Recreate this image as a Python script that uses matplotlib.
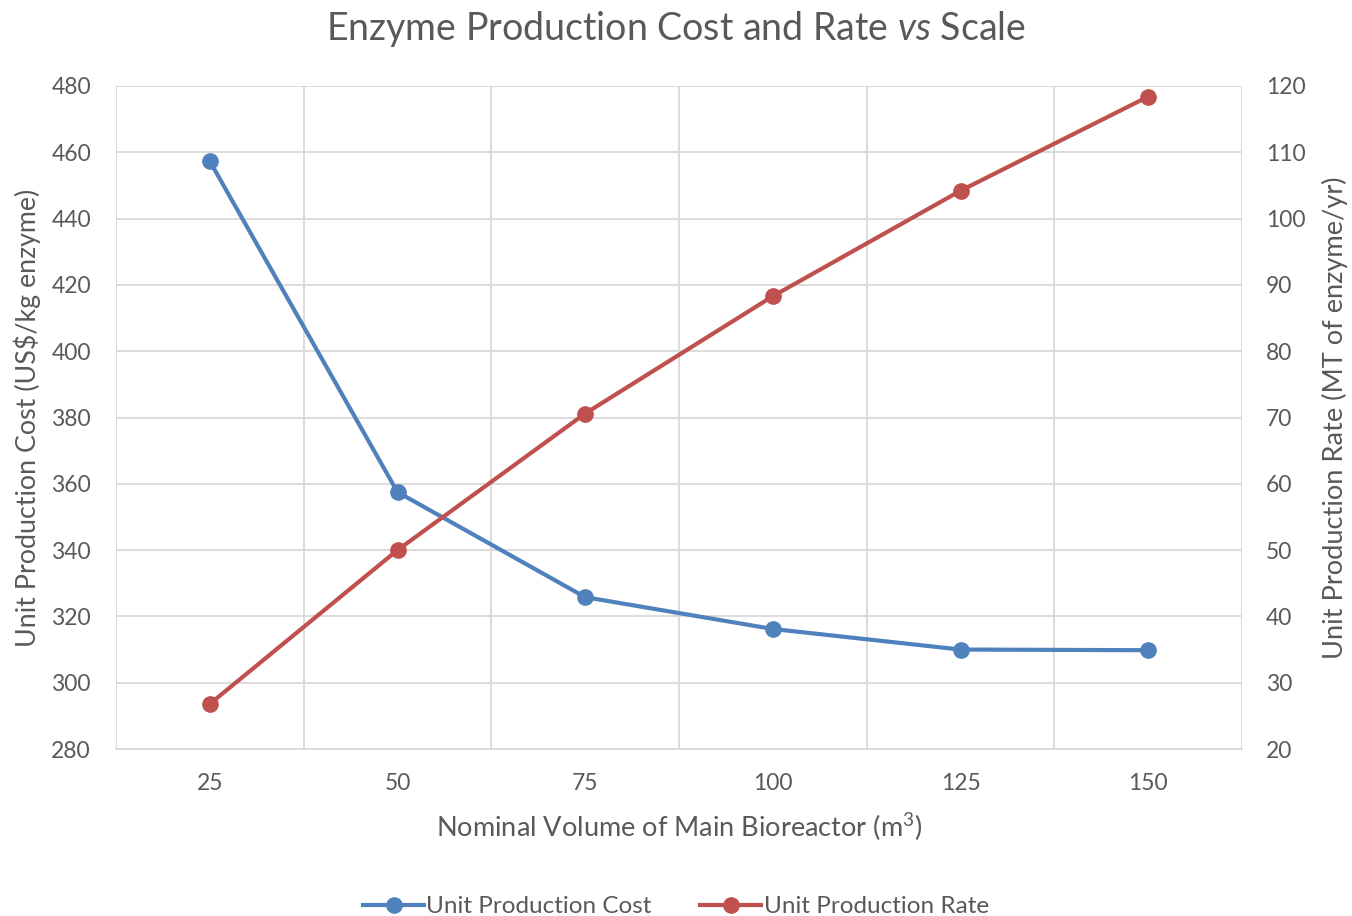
import numpy as np
import matplotlib.pyplot as plt
from matplotlib.lines import Line2D

plt.rcParams['font.family'] = ['Lato', 'DejaVu Sans']
plt.rcParams['mathtext.fontset'] = 'custom'
plt.rcParams['mathtext.rm'] = 'Lato'
plt.rcParams['mathtext.it'] = 'Lato:italic'

volumes = ['25', '50', '75', '100', '125', '150']
unit_cost = [457.3, 357.5, 325.8, 316.2, 310.0, 309.8]
unit_rate = [26.8, 50.0, 70.6, 88.3, 104.2, 118.4]

blue = '#4F81BD'
red = '#C0504D'
txt = '#595959'
grid = '#D9D9D9'

fig = plt.figure(figsize=(13.52, 9.16), dpi=100)
ax = fig.add_axes([116 / 1352, 1 - 749 / 916, 1126 / 1352, 663 / 916])
ax2 = ax.twinx()

x = np.arange(len(volumes)) + 0.5
ax.plot(x, unit_cost, color=blue, lw=3, marker='o', ms=11, zorder=3)
ax2.plot(x, unit_rate, color=red, lw=3, marker='o', ms=11, zorder=3)

ax.set_xlim(0, len(volumes))
ax.set_ylim(280, 480)
ax.set_yticks(np.arange(280, 481, 20))
ax2.set_ylim(20, 120)
ax2.set_yticks(np.arange(20, 121, 10))

ax.set_xticks(x)
ax.set_xticklabels(volumes)
ax.set_xticks(np.arange(0, len(volumes) + 1), minor=True)
ax.grid(True, which='minor', axis='x', color=grid, lw=1.3)
ax.grid(True, which='major', axis='y', color=grid, lw=1.3)
ax.set_axisbelow(True)

for a in (ax, ax2):
    for s in a.spines.values():
        s.set_visible(False)
    a.tick_params(axis='both', which='both', length=0, labelsize=16.5, colors=txt, pad=18)
ax.spines['bottom'].set_visible(True)
ax.spines['bottom'].set_color(grid)
ax.spines['bottom'].set_linewidth(1.3)
ax.tick_params(axis='x', pad=17)
ax2.tick_params(axis='y', pad=17)

ax.set_xlabel('Nominal Volume of Main Bioreactor (m$^3$)', fontsize=19.5, color=txt)
ax.set_ylabel('Unit Production Cost (US$/kg enzyme)', fontsize=19.3, color=txt)
ax2.set_ylabel('Unit Production Rate (MT of enzyme/yr)', fontsize=19.6, color=txt)
ax.xaxis.set_label_coords(0.5, -0.118, transform=ax.transAxes)
ax.yaxis.set_label_coords(-0.079, 0.5, transform=ax.transAxes)
ax2.yaxis.set_label_coords(1.0826, 0.5, transform=ax2.transAxes)
ax.xaxis.label.set_va('center')
ax.yaxis.label.set_va('center')
ax2.yaxis.label.set_va('center')
fig.suptitle('Enzyme Production Cost and Rate $\\mathit{vs}$ Scale', y=0.99, fontsize=27, color=txt)

handles = [Line2D([], [], color=blue, lw=3, marker='o', ms=11),
           Line2D([], [], color=red, lw=3, marker='o', ms=11)]
fig.legend(handles, ['Unit Production Cost', 'Unit Production Rate'], loc='lower center',
           bbox_to_anchor=(0.5, -0.025), ncol=2, frameon=False, fontsize=17.5,
           labelcolor=txt, handlelength=2.5, handletextpad=0.1, columnspacing=2.0)

fig.savefig('out.png', dpi=100)
